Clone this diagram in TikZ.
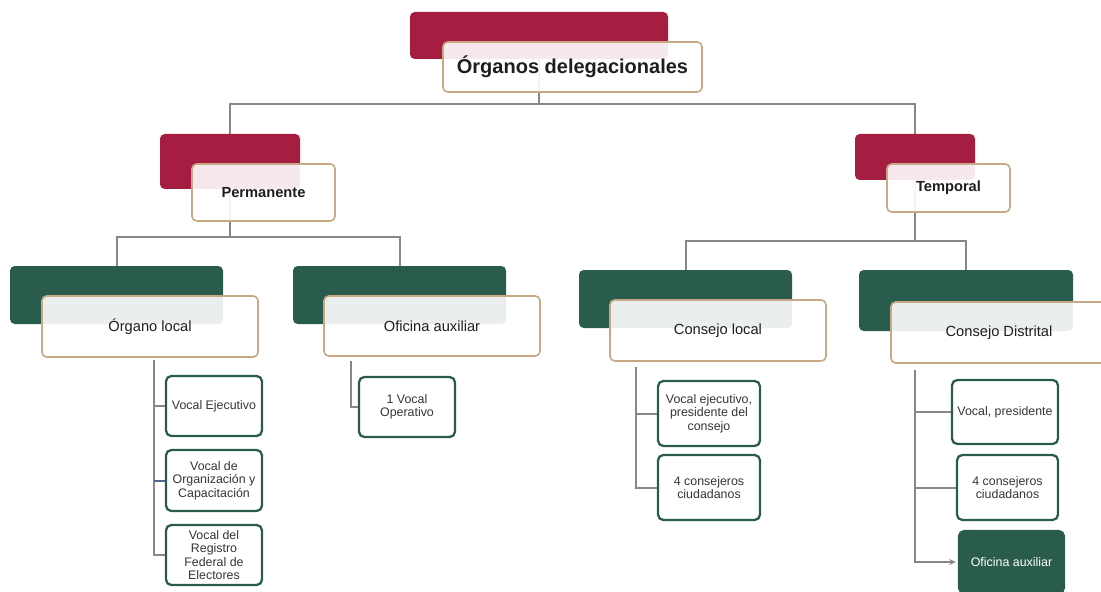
\documentclass[tikz,border=0pt]{standalone}
\usepackage{fontspec}
\setmainfont{Liberation Sans}
\usepackage{tikz}
\usetikzlibrary{arrows.meta,backgrounds}
\definecolor{guinda}{RGB}{165,30,66}
\definecolor{verdeine}{RGB}{42,92,77}
\definecolor{arena}{RGB}{201,169,133}
\definecolor{linea}{RGB}{135,135,135}
\definecolor{lineaazul}{RGB}{85,100,145}
\definecolor{texto}{RGB}{30,30,30}

\begin{document}
\begin{tikzpicture}[x=0.75pt,y=0.75pt,yscale=-1,xscale=1,
  sz/.style 2 args={minimum width=#1*0.75pt,minimum height=#2*0.75pt},
  barra/.style={draw=none,fill=#1,rounded corners=3.5pt,inner sep=0pt},
  caja/.style={draw=arena,line width=1.2pt,fill=white,fill opacity=0.9,text opacity=1,rounded corners=3.5pt,inner sep=0pt,text=texto,align=center},
  hoja/.style={draw=verdeine,line width=1.7pt,fill=white,rounded corners=4pt,inner sep=0pt,text=texto!90,align=center,font=\fontsize{9.3}{10}\selectfont},
  conn/.style={draw=linea,line width=1.5pt},
]
\clip (0,0) rectangle (1101,592);

%Shape: Rectangle [id:titulo]
\node[barra=guinda,sz={258}{47}] (topbar) at (539,35.5) {};
\node[caja,sz={259}{50},font=\fontsize{15}{18}\selectfont\bfseries] (top) at (572.5,67) {Órganos delegacionales};

%Shape: Rectangle [id:permanente]
\node[barra=guinda,sz={140}{55}] (permbar) at (230,161.5) {};
\node[caja,sz={143}{57},font=\fontsize{11}{13}\selectfont\bfseries] (perm) at (263.5,192.5) {Permanente};
%Shape: Rectangle [id:temporal]
\node[barra=guinda,sz={120}{46}] (tempbar) at (915,157) {};
\node[caja,sz={123}{48},font=\fontsize{11}{13}\selectfont\bfseries] (temp) at (948.5,188) {Temporal};

%Shape: Rectangle [id:organo local]
\node[barra=verdeine,sz={213}{58}] (locbar) at (116.5,295) {};
\node[caja,sz={216}{61},font=\fontsize{11}{13}\selectfont] (loc) at (150,326.5) {Órgano local};
%Shape: Rectangle [id:oficina auxiliar]
\node[barra=verdeine,sz={213}{58}] (ofibar) at (399.5,295) {};
\node[caja,sz={216}{60},font=\fontsize{11}{13}\selectfont] (ofi) at (432,326) {Oficina auxiliar};
%Shape: Rectangle [id:consejo local]
\node[barra=verdeine,sz={213}{58}] (clbar) at (685.5,299) {};
\node[caja,sz={216}{61},font=\fontsize{11}{13}\selectfont] (cl) at (718,330.5) {Consejo local};
%Shape: Rectangle [id:consejo distrital]
\node[barra=verdeine,sz={214}{61}] (cdbar) at (966,300.5) {};
\node[caja,sz={216}{61},font=\fontsize{11}{13}\selectfont] (cd) at (999,332.5) {Consejo Distrital};

% Text Node
\node[hoja,sz={96}{60}] (ve) at (214,406) {Vocal Ejecutivo};
\node[hoja,sz={96}{61}] (voc) at (214,480.5) {Vocal de\\Organización y\\Capacitación};
\node[hoja,sz={96}{60}] (vrf) at (214,555) {Vocal del\\Registro\\Federal de\\Electores};
\node[hoja,sz={96}{60}] (vop) at (407,407) {1 Vocal\\Operativo};
\node[hoja,sz={102}{65}] (cve) at (709,413.5) {Vocal ejecutivo,\\presidente del\\consejo};
\node[hoja,sz={102}{65}] (ccc) at (709,487.5) {4 consejeros\\ciudadanos};
\node[hoja,sz={106}{64}] (dvp) at (1005,412) {Vocal, presidente};
\node[hoja,sz={101}{65}] (dcc) at (1007.5,487.5) {4 consejeros\\ciudadanos};
\node[hoja,sz={105}{62},fill=verdeine,text=white] (dof) at (1011.5,562) {Oficina auxiliar};

%Straight Lines [id:conectores]
\begin{scope}[on background layer]
\coordinate (jt) at (539,104);
\coordinate (jp) at (230,237);
\coordinate (jm) at (915,241);
\draw[conn] (topbar.center) -- (jt);
\draw[conn] (permbar.north) |- (jt) -| (tempbar.north);
\draw[conn] (permbar.center) -- (jp);
\draw[conn] (locbar.north) |- (jp) -| (ofibar.north);
\draw[conn] (tempbar.center) -- (jm);
\draw[conn] (clbar.north) |- (jm) -| (cdbar.north);
\end{scope}

\coordinate (tloc) at (154,360);
\draw[conn] (tloc) |- (ve.west);
\draw[conn] (tloc) |- (vrf.west);
\draw[conn,draw=lineaazul] (tloc |- voc.west) -- (voc.west);
\coordinate (tofi) at (351,361);
\draw[conn] (tofi) |- (vop.west);
\coordinate (tcl) at (635.5,367);
\draw[conn] (tcl) |- (cve.west);
\draw[conn] (tcl) |- (ccc.west);
\coordinate (tcd) at (915,370);
\draw[conn] (tcd) |- (dvp.west);
\draw[conn] (tcd) |- (dcc.west);
\draw[conn,-{Stealth[length=5pt,width=4.5pt]},shorten >=1.5pt] (tcd) |- (dof.west);

\end{tikzpicture}
\end{document}
